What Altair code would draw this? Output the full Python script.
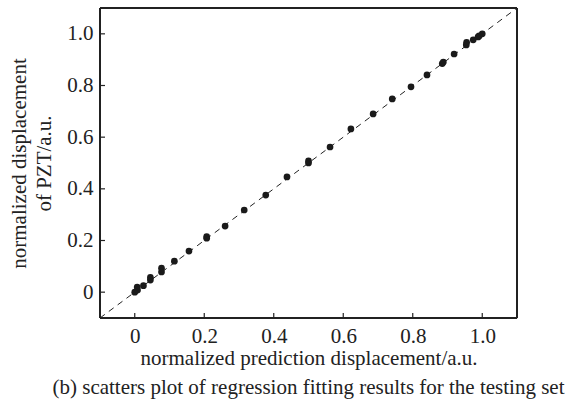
import altair as alt
import pandas as pd

pred = [0.0, 0.008, 0.007, 0.025, 0.045, 0.045, 0.077, 0.077, 0.114, 0.156, 0.207, 0.207,
        0.26, 0.315, 0.377, 0.438, 0.50, 0.50, 0.562, 0.622, 0.686, 0.741, 0.795, 0.841,
        0.885, 0.888, 0.919, 0.954, 0.955, 0.974, 0.988, 0.991, 1.0]
actual = [0.0, 0.008, 0.02, 0.025, 0.047, 0.057, 0.078, 0.093, 0.12, 0.159, 0.209, 0.215,
          0.256, 0.318, 0.376, 0.446, 0.50, 0.508, 0.562, 0.632, 0.69, 0.748, 0.795, 0.841,
          0.885, 0.891, 0.922, 0.957, 0.967, 0.977, 0.988, 0.992, 1.0]
line_x = [-0.1, 1.1]
tick_vals = [0, 0.2, 0.4, 0.6, 0.8, 1.0]

W, H = 417, 310

df = pd.DataFrame({"pred": pred, "actual": actual})
ldf = pd.DataFrame({"x": line_x, "y": line_x})
tdf = pd.DataFrame({"t": tick_vals})

FONT = "'Liberation Serif', 'Times New Roman', Times, serif"
INK = "#222"
FS = 21

xscale = alt.Scale(domain=[-0.1, 1.1], nice=False, zero=False)
yscale = alt.Scale(domain=[-0.1, 1.1], nice=False, zero=False)

fmt = "datum.value == 0 ? '0' : format(datum.value, '.1f')"

xaxis = alt.Axis(values=tick_vals, labelExpr=fmt, title="normalized prediction displacement/a.u.",
                 grid=False, ticks=False, domain=False, labelPadding=7,
                 labelFont=FONT, labelFontSize=FS, titleFont=FONT, titleFontSize=FS,
                 titleFontWeight="normal", labelColor=INK, titleColor=INK, titlePadding=1)
yaxis = alt.Axis(values=tick_vals, labelExpr=fmt,
                 title=["normalized displacement", "of  PZT/a.u."],
                 grid=False, ticks=False, domain=False, labelPadding=7,
                 labelFont=FONT, labelFontSize=FS, titleFont=FONT, titleFontSize=FS,
                 titleFontWeight="normal", labelColor=INK, titleColor=INK,
                 titlePadding=12, titleLineHeight=25)

line = alt.Chart(ldf).mark_line(color=INK, strokeDash=[6, 5], strokeWidth=1).encode(
    x=alt.X("x:Q", scale=xscale, axis=xaxis),
    y=alt.Y("y:Q", scale=yscale, axis=yaxis),
)
pts = alt.Chart(df).mark_circle(color="#1a1a1a", opacity=1, size=45).encode(
    x=alt.X("pred:Q", scale=xscale),
    y=alt.Y("actual:Q", scale=yscale),
)
xticks = alt.Chart(tdf).mark_rule(color=INK, strokeWidth=1.2).encode(
    x=alt.X("t:Q", scale=xscale),
    y=alt.value(H), y2=alt.value(H - 5),
)
yticks = alt.Chart(tdf).mark_rule(color=INK, strokeWidth=1.2).encode(
    y=alt.Y("t:Q", scale=yscale),
    x=alt.value(0), x2=alt.value(5),
)
frame_l = alt.Chart(tdf).mark_rule(color=INK, strokeWidth=1.5).encode(
    x=alt.value(0), y=alt.value(0), y2=alt.value(H))
frame_r = alt.Chart(tdf).mark_rule(color=INK, strokeWidth=1.5).encode(
    x=alt.value(W), y=alt.value(0), y2=alt.value(H))
frame_t = alt.Chart(tdf).mark_rule(color=INK, strokeWidth=1.5).encode(
    y=alt.value(0), x=alt.value(0), x2=alt.value(W))
frame_b = alt.Chart(tdf).mark_rule(color=INK, strokeWidth=1.5).encode(
    y=alt.value(H), x=alt.value(0), x2=alt.value(W))

chart = alt.layer(line, pts, xticks, yticks, frame_l, frame_r, frame_t, frame_b).properties(
    width=W, height=H,
    autosize=alt.AutoSizeParams(type="none"),
    padding={"left": 100, "top": 8, "right": 65, "bottom": 89},
    title=alt.TitleParams(
        "(b) scatters plot of regression fitting results for the testing set",
        orient="bottom", anchor="middle", font=FONT, fontSize=FS, fontWeight="normal",
        color=INK, offset=9, dx=0,
    ),
).configure_view(stroke=None).configure(background="white")

chart.save("out.html", embed_options={"renderer": "svg", "actions": False})
